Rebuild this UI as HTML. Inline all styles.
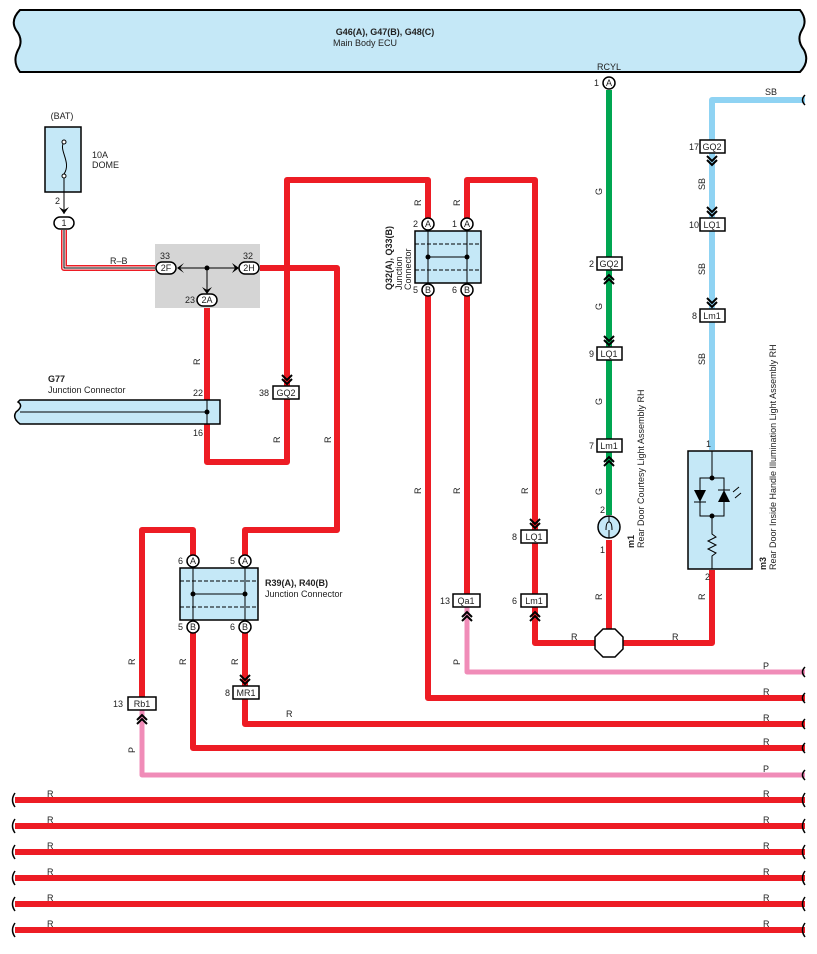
<!DOCTYPE html>
<html><head><meta charset="utf-8"><style>
html,body{margin:0;padding:0;background:#fff}
svg{display:block}
text{font-family:"Liberation Sans",sans-serif;font-size:9px;fill:#222}
.b{font-weight:bold}
</style></head><body>
<svg width="817" height="954" viewBox="0 0 817 954" xmlns="http://www.w3.org/2000/svg">
<defs>
<g id="chd"><path d="M-5,-6 L0,-1 L5,-6 M-5,-2 L0,3 L5,-2" fill="none" stroke="#000" stroke-width="2"/></g>
<g id="chu"><path d="M-5,6 L0,1 L5,6 M-5,2 L0,-3 L5,2" fill="none" stroke="#000" stroke-width="2"/></g>
</defs>
<!-- ECU -->
<path d="M20,10 L800,10 Q808,20 802,30 Q796,40 804,50 Q810,62 800,72 L20,72 Q12,62 18,50 Q24,40 16,30 Q10,20 20,10 Z" fill="#c5e8f7" stroke="#000" stroke-width="2"/>
<text x="385" y="35" class="b" text-anchor="middle">G46(A), G47(B), G48(C)</text>
<text x="333" y="46">Main Body ECU</text>
<text x="609" y="70" text-anchor="middle">RCYL</text>

<g fill="none" stroke-linejoin="round" stroke-linecap="butt">
<!-- green -->
<path d="M609,90 L609,515" stroke="#00a651" stroke-width="6"/>
<!-- blue -->
<path d="M805,100 L712,100 L712,450" stroke="#8fd3f3" stroke-width="6"/>
<!-- pink -->
<path d="M142,710 L142,775 L805,775" stroke="#f08cb8" stroke-width="5"/>
<path d="M467,607 L467,672 L805,672" stroke="#f08cb8" stroke-width="5"/>
<!-- R-B -->
<path d="M64,230 L64,268 L160,268" stroke="#ed1c24" stroke-width="6"/>
<path d="M64,230 L64,268 L160,268" stroke="#fff" stroke-width="3"/>
<path d="M64,230 L64,268 L160,268" stroke="#000" stroke-width="1"/>
<g stroke="#ed1c24" stroke-width="6">
<path d="M609,540 L609,643"/>
<path d="M712,570 L712,643 L609,643"/>
<path d="M535,607 L535,643 L609,643"/>
<path d="M467,223 L467,180 L535,180 L535,530"/>
<path d="M535,543 L535,594"/>
<path d="M428,223 L428,180 L287,180 L287,386"/>
<path d="M287,399 L287,462 L207,462 L207,424"/>
<path d="M207,306 L207,400"/>
<path d="M256,268 L337,268 L337,530 L245,530 L245,556"/>
<path d="M193,556 L193,530 L142,530 L142,697"/>
<path d="M193,632 L193,748 L805,748"/>
<path d="M245,632 L245,686"/>
<path d="M245,699 L245,724 L805,724"/>
<path d="M428,294 L428,698 L805,698"/>
<path d="M467,294 L467,594"/>
<path d="M15,800 L805,800 M15,826 L805,826 M15,852 L805,852 M15,878 L805,878 M15,904 L805,904 M15,930 L805,930"/>
</g>
</g>

<!-- fuse -->
<text x="62" y="119" text-anchor="middle">(BAT)</text>
<rect x="45" y="127" width="36" height="65" fill="#c5e8f7" stroke="#000" stroke-width="1.5"/>
<path d="M64,142 C58,150 72,162 64,174" fill="none" stroke="#000"/>
<circle cx="64" cy="142" r="2" fill="#fff" stroke="#000"/><circle cx="64" cy="176" r="2" fill="#fff" stroke="#000"/>
<line x1="64" y1="178" x2="64" y2="214" stroke="#000"/>
<path d="M59,207 L64,214 L69,207 L64,210Z" fill="#000"/>
<text x="92" y="158">10A</text><text x="92" y="168">DOME</text>
<text x="55" y="204">2</text>
<rect x="54" y="217" width="20" height="12" rx="6" fill="#fff" stroke="#000" stroke-width="1.5"/><text x="64" y="226" text-anchor="middle">1</text>
<text x="110" y="264">R–B</text>
<!-- grey junction -->
<rect x="155" y="244" width="105" height="64" fill="#d5d5d5"/>
<line x1="180" y1="268" x2="240" y2="268" stroke="#000"/><line x1="207" y1="268" x2="207" y2="292" stroke="#000"/>
<circle cx="207" cy="268" r="2.5" fill="#000"/>
<path d="M176,263 L183,268 L176,273 L180,268Z" fill="#000" transform="rotate(180 180 268)"/>
<path d="M232,263 L239,268 L232,273 L235,268Z" fill="#000"/>
<path d="M202,287 L207,294 L212,287 L207,290Z" fill="#000"/>
<g fill="#fff" stroke="#000" stroke-width="1.5">
<rect x="156" y="262" width="20" height="12" rx="6"/><rect x="239" y="262" width="20" height="12" rx="6"/><rect x="197" y="294" width="20" height="12" rx="6"/></g>
<text x="166" y="271" text-anchor="middle">2F</text><text x="249" y="271" text-anchor="middle">2H</text><text x="207" y="303" text-anchor="middle">2A</text>
<text x="160" y="259">33</text><text x="243" y="259">32</text><text x="185" y="303">23</text>
<!-- G77 -->
<text x="48" y="382" class="b">G77</text><text x="48" y="393">Junction Connector</text>
<path d="M20,400 L220,400 L220,424 L20,424 Q12,418 16,412 Q24,406 18,402Z" fill="#c5e8f7" stroke="#000" stroke-width="1.5"/>
<line x1="20" y1="412" x2="207" y2="412" stroke="#000"/><line x1="207" y1="400" x2="207" y2="424" stroke="#000"/>
<circle cx="207" cy="412" r="2.5" fill="#000"/>
<text x="193" y="396">22</text><text x="193" y="436">16</text>

<!-- Q32 -->
<rect x="415" y="231" width="66" height="52" fill="#c5e8f7" stroke="#000" stroke-width="1.5"/>
<line x1="415" y1="244" x2="481" y2="244" stroke="#000" stroke-dasharray="4,2"/><line x1="415" y1="270" x2="481" y2="270" stroke="#000" stroke-dasharray="4,2"/>
<line x1="428" y1="231" x2="428" y2="283" stroke="#000"/><line x1="467" y1="231" x2="467" y2="283" stroke="#000"/><line x1="428" y1="257" x2="467" y2="257" stroke="#000"/>
<circle cx="428" cy="257" r="2.5" fill="#000"/><circle cx="467" cy="257" r="2.5" fill="#000"/>
<g fill="#fff" stroke="#000" stroke-width="1.5"><circle cx="428" cy="224" r="6"/><circle cx="467" cy="224" r="6"/><circle cx="428" cy="290" r="6"/><circle cx="467" cy="290" r="6"/></g>
<text x="428" y="227" text-anchor="middle" font-size="8">A</text><text x="467" y="227" text-anchor="middle" font-size="8">A</text><text x="428" y="293" text-anchor="middle" font-size="8">B</text><text x="467" y="293" text-anchor="middle" font-size="8">B</text>
<text x="413" y="227">2</text><text x="452" y="227">1</text><text x="413" y="293">5</text><text x="452" y="293">6</text>
<g transform="translate(392,290) rotate(-90)"><text x="0" y="0" class="b">Q32(A), Q33(B)</text><text x="0" y="10">Junction</text><text x="0" y="19">Connector</text></g>

<!-- R39 -->
<rect x="180" y="568" width="78" height="52" fill="#c5e8f7" stroke="#000" stroke-width="1.5"/>
<line x1="180" y1="581" x2="258" y2="581" stroke="#000" stroke-dasharray="4,2"/><line x1="180" y1="607" x2="258" y2="607" stroke="#000" stroke-dasharray="4,2"/>
<line x1="193" y1="568" x2="193" y2="620" stroke="#000"/><line x1="245" y1="568" x2="245" y2="620" stroke="#000"/><line x1="193" y1="594" x2="245" y2="594" stroke="#000"/>
<circle cx="193" cy="594" r="2.5" fill="#000"/><circle cx="245" cy="594" r="2.5" fill="#000"/>
<g fill="#fff" stroke="#000" stroke-width="1.5"><circle cx="193" cy="561" r="6"/><circle cx="245" cy="561" r="6"/><circle cx="193" cy="627" r="6"/><circle cx="245" cy="627" r="6"/></g>
<text x="193" y="564" text-anchor="middle" font-size="8">A</text><text x="245" y="564" text-anchor="middle" font-size="8">A</text><text x="193" y="630" text-anchor="middle" font-size="8">B</text><text x="245" y="630" text-anchor="middle" font-size="8">B</text>
<text x="178" y="564">6</text><text x="230" y="564">5</text><text x="178" y="630">5</text><text x="230" y="630">6</text>
<text x="265" y="586" class="b">R39(A), R40(B)</text><text x="265" y="597">Junction Connector</text>

<!-- ECU pin -->
<circle cx="609" cy="83" r="6" fill="#fff" stroke="#000" stroke-width="1.5"/><text x="609" y="86" text-anchor="middle" font-size="8">A</text><text x="594" y="86">1</text>

<!-- connectors -->
<g fill="#fff" stroke="#000" stroke-width="1.5">
<rect x="597" y="257" width="25" height="13"/><rect x="597" y="347" width="25" height="13"/><rect x="597" y="439" width="25" height="13"/>
<rect x="700" y="140" width="25" height="13"/><rect x="700" y="218" width="25" height="13"/><rect x="700" y="309" width="25" height="13"/>
<rect x="273" y="386" width="26" height="13"/><rect x="521" y="530" width="26" height="13"/><rect x="521" y="594" width="26" height="13"/>
<rect x="453" y="594" width="27" height="13"/><rect x="128" y="697" width="28" height="13"/><rect x="233" y="686" width="26" height="13"/>
</g>
<g text-anchor="middle">
<text x="609" y="267">GQ2</text><text x="609" y="357">LQ1</text><text x="609" y="449">Lm1</text>
<text x="712" y="150">GQ2</text><text x="712" y="228">LQ1</text><text x="712" y="319">Lm1</text>
<text x="286" y="396">GQ2</text><text x="534" y="540">LQ1</text><text x="534" y="604">Lm1</text>
<text x="466" y="604">Qa1</text><text x="142" y="707">Rb1</text><text x="246" y="696">MR1</text>
</g>
<text x="589" y="267">2</text><text x="589" y="357">9</text><text x="589" y="449">7</text>
<text x="689" y="150">17</text><text x="689" y="228">10</text><text x="692" y="319">8</text>
<text x="259" y="396">38</text><text x="512" y="540">8</text><text x="512" y="604">6</text>
<text x="440" y="604">13</text><text x="113" y="707">13</text><text x="225" y="696">8</text>
<use href="#chu" x="609" y="278"/><use href="#chd" x="609" y="342"/><use href="#chu" x="609" y="460"/>
<use href="#chd" x="712" y="162"/><use href="#chd" x="712" y="213"/><use href="#chd" x="712" y="304"/>
<use href="#chd" x="287" y="381"/><use href="#chd" x="535" y="525"/><use href="#chu" x="535" y="615"/>
<use href="#chu" x="467" y="615"/><use href="#chu" x="142" y="718"/><use href="#chd" x="245" y="681"/>

<!-- m1 bulb -->
<circle cx="609" cy="527" r="11" fill="#c5e8f7" stroke="#000" stroke-width="1.5"/>
<path d="M609,516 L609,522 M606,530 Q606,522 609,522 Q612,522 612,530 M609,530 L609,538" fill="none" stroke="#000"/>
<text x="600" y="513">2</text><text x="600" y="553">1</text>
<g transform="translate(634,548) rotate(-90)"><text x="0" y="0" class="b">m1</text><text x="0" y="10">Rear Door Courtesy Light Assembly RH</text></g>
<!-- m3 -->
<rect x="688" y="451" width="64" height="118" fill="#c5e8f7" stroke="#000" stroke-width="1.5"/>
<path d="M712,451 L712,478 M700,478 L724,478 L724,516 L700,516 Z M712,516 L712,534 L716,537 L708,541 L716,545 L708,549 L716,553 L712,556 L712,569" fill="none" stroke="#000"/>
<circle cx="712" cy="478" r="2.5" fill="#000"/><circle cx="712" cy="516" r="2.5" fill="#000"/>
<path d="M694,490 L706,490 L700,502Z M718,502 L730,502 L724,490Z" fill="#000"/>
<path d="M694,502 L706,502 M718,490 L730,490 M733,492 L739,487 M735,498 L741,493" stroke="#000" fill="none"/>
<text x="706" y="447">1</text><text x="705" y="580">2</text>
<g transform="translate(766,570) rotate(-90)"><text x="0" y="0" class="b">m3</text><text x="0" y="10">Rear Door Inside Handle Illumination Light Assembly RH</text></g>
<!-- octagon -->
<polygon points="603,629 615,629 623,637 623,649 615,657 603,657 595,649 595,637" fill="#fff" stroke="#000" stroke-width="1.5"/>

<!-- wire labels -->
<g font-size="9">
<text x="765" y="95">SB</text>
<text x="571" y="640">R</text><text x="672" y="640">R</text><text x="286" y="717">R</text>
<text x="763" y="669">P</text><text x="763" y="695">R</text><text x="763" y="721">R</text><text x="763" y="745">R</text><text x="763" y="772">P</text>
<text x="47" y="797">R</text><text x="763" y="797">R</text><text x="47" y="823">R</text><text x="763" y="823">R</text>
<text x="47" y="849">R</text><text x="763" y="849">R</text><text x="47" y="875">R</text><text x="763" y="875">R</text>
<text x="47" y="901">R</text><text x="763" y="901">R</text><text x="47" y="927">R</text><text x="763" y="927">R</text>
</g>
<g font-size="9">
<text transform="translate(602,195) rotate(-90)">G</text><text transform="translate(602,310) rotate(-90)">G</text><text transform="translate(602,405) rotate(-90)">G</text><text transform="translate(602,495) rotate(-90)">G</text>
<text transform="translate(705,190) rotate(-90)">SB</text><text transform="translate(705,275) rotate(-90)">SB</text><text transform="translate(705,365) rotate(-90)">SB</text>
<text transform="translate(200,365) rotate(-90)">R</text><text transform="translate(280,443) rotate(-90)">R</text><text transform="translate(331,443) rotate(-90)">R</text>
<text transform="translate(421,206) rotate(-90)">R</text><text transform="translate(460,206) rotate(-90)">R</text>
<text transform="translate(421,494) rotate(-90)">R</text><text transform="translate(460,494) rotate(-90)">R</text><text transform="translate(528,494) rotate(-90)">R</text>
<text transform="translate(602,600) rotate(-90)">R</text><text transform="translate(705,600) rotate(-90)">R</text>
<text transform="translate(135,665) rotate(-90)">R</text><text transform="translate(186,665) rotate(-90)">R</text><text transform="translate(238,665) rotate(-90)">R</text>
<text transform="translate(460,665) rotate(-90)">P</text><text transform="translate(135,753) rotate(-90)">P</text>
</g>
<!-- wavy ends -->
<g fill="none" stroke="#000" stroke-width="1.5">
<path d="M805,95 q-5,5 0,10"/><path d="M805,667 q-5,5 0,10"/><path d="M805,693 q-5,5 0,10"/><path d="M805,719 q-5,5 0,10"/><path d="M805,743 q-5,5 0,10"/><path d="M805,770 q-5,5 0,10"/>
<path d="M15,793 q-5,7 0,14"/><path d="M15,819 q-5,7 0,14"/><path d="M15,845 q-5,7 0,14"/><path d="M15,871 q-5,7 0,14"/><path d="M15,897 q-5,7 0,14"/><path d="M15,923 q-5,7 0,14"/>
<path d="M805,793 q-5,7 0,14"/><path d="M805,819 q-5,7 0,14"/><path d="M805,845 q-5,7 0,14"/><path d="M805,871 q-5,7 0,14"/><path d="M805,897 q-5,7 0,14"/><path d="M805,923 q-5,7 0,14"/>
</g>
</svg>
</body></html>
